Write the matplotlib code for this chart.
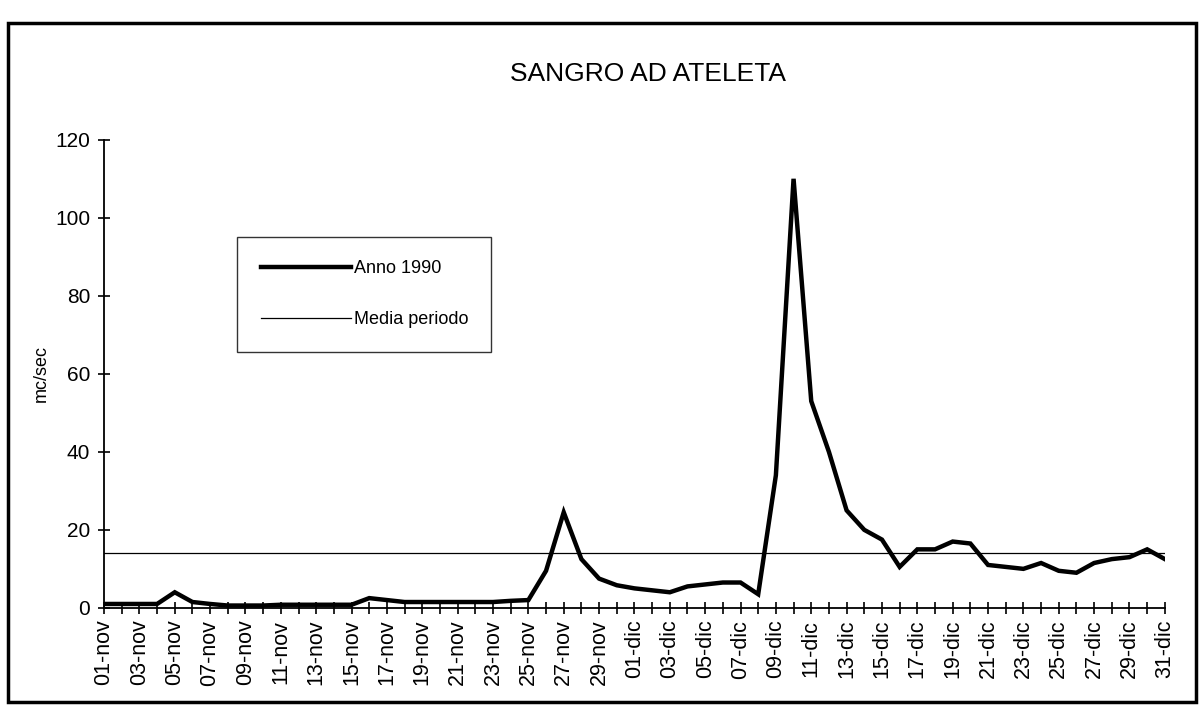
import matplotlib.pyplot as plt
from matplotlib.patches import Rectangle

# Portate giornaliere (mc/sec), 01-nov .. 31-dic 1990
giorni_nov = [f"{d:02d}-nov" for d in range(1, 31)]
giorni_dic = [f"{d:02d}-dic" for d in range(1, 32)]
giorni = giorni_nov + giorni_dic

portata_nov = [1.0, 1.0, 1.0, 1.0, 4.0, 1.5, 1.0, 0.6, 0.6, 0.6,
               0.8, 0.8, 0.8, 0.8, 0.8, 2.5, 2.0, 1.5, 1.5, 1.5,
               1.5, 1.5, 1.5, 1.8, 2.0, 9.5, 24.5, 12.5, 7.5, 5.8]
portata_dic = [5.0, 4.5, 4.0, 5.5, 6.0, 6.5, 6.5, 3.5, 34.0, 110.0,
               53.0, 40.0, 25.0, 20.0, 17.5, 10.5, 15.0, 15.0, 17.0, 16.5,
               11.0, 10.5, 10.0, 11.5, 9.5, 9.0, 11.5, 12.5, 13.0, 15.0,
               12.5]
portata = portata_nov + portata_dic

media_periodo = 14.0

plt.rcParams['font.family'] = ['Liberation Sans', 'DejaVu Sans']

fig = plt.figure(figsize=(12, 7.06), dpi=100)
ax = fig.add_axes([0.0867, 0.139, 0.884, 0.663])

x = list(range(len(giorni)))
ax.plot(x, portata, color='black', lw=3.2, label='Anno 1990', solid_joinstyle='miter')
ax.plot(x, [media_periodo] * len(x), color='black', lw=0.9, label='Media periodo')

ax.set_xlim(0, len(x) - 1)
ax.set_ylim(0, 120)
ax.set_yticks(range(0, 121, 20))
ax.set_xticks(x)
ax.set_xticklabels([g if i % 2 == 0 else '' for i, g in enumerate(giorni)],
                   rotation=90, fontsize=15.5)
ax.tick_params(axis='x', direction='inout', length=9, width=1.2, pad=4)
ax.tick_params(axis='y', direction='inout', length=8, width=1.2, labelsize=15, pad=6)

ax.spines['top'].set_visible(False)
ax.spines['right'].set_visible(False)
ax.spines['left'].set_linewidth(1.3)
ax.spines['bottom'].set_linewidth(1.3)

ax.set_ylabel('mc/sec', fontsize=13, labelpad=4)
fig.text(0.54, 0.895, 'SANGRO AD ATELETA', ha='center', va='center', fontsize=19)

leg = ax.legend(loc='upper left', bbox_to_anchor=(0.1254, 0.793), frameon=True,
                fancybox=False, edgecolor='black', fontsize=13, handlelength=5.0,
                labelspacing=1.9, borderpad=1.3, handletextpad=0.15, borderaxespad=0)
leg.get_frame().set_linewidth(1.0)

# cornice esterna
fig.patches.append(Rectangle((0.007, 0.006), 0.99, 0.962, transform=fig.transFigure,
                             fill=False, edgecolor='black', lw=2.5))

fig.savefig('out.png', dpi=100)
